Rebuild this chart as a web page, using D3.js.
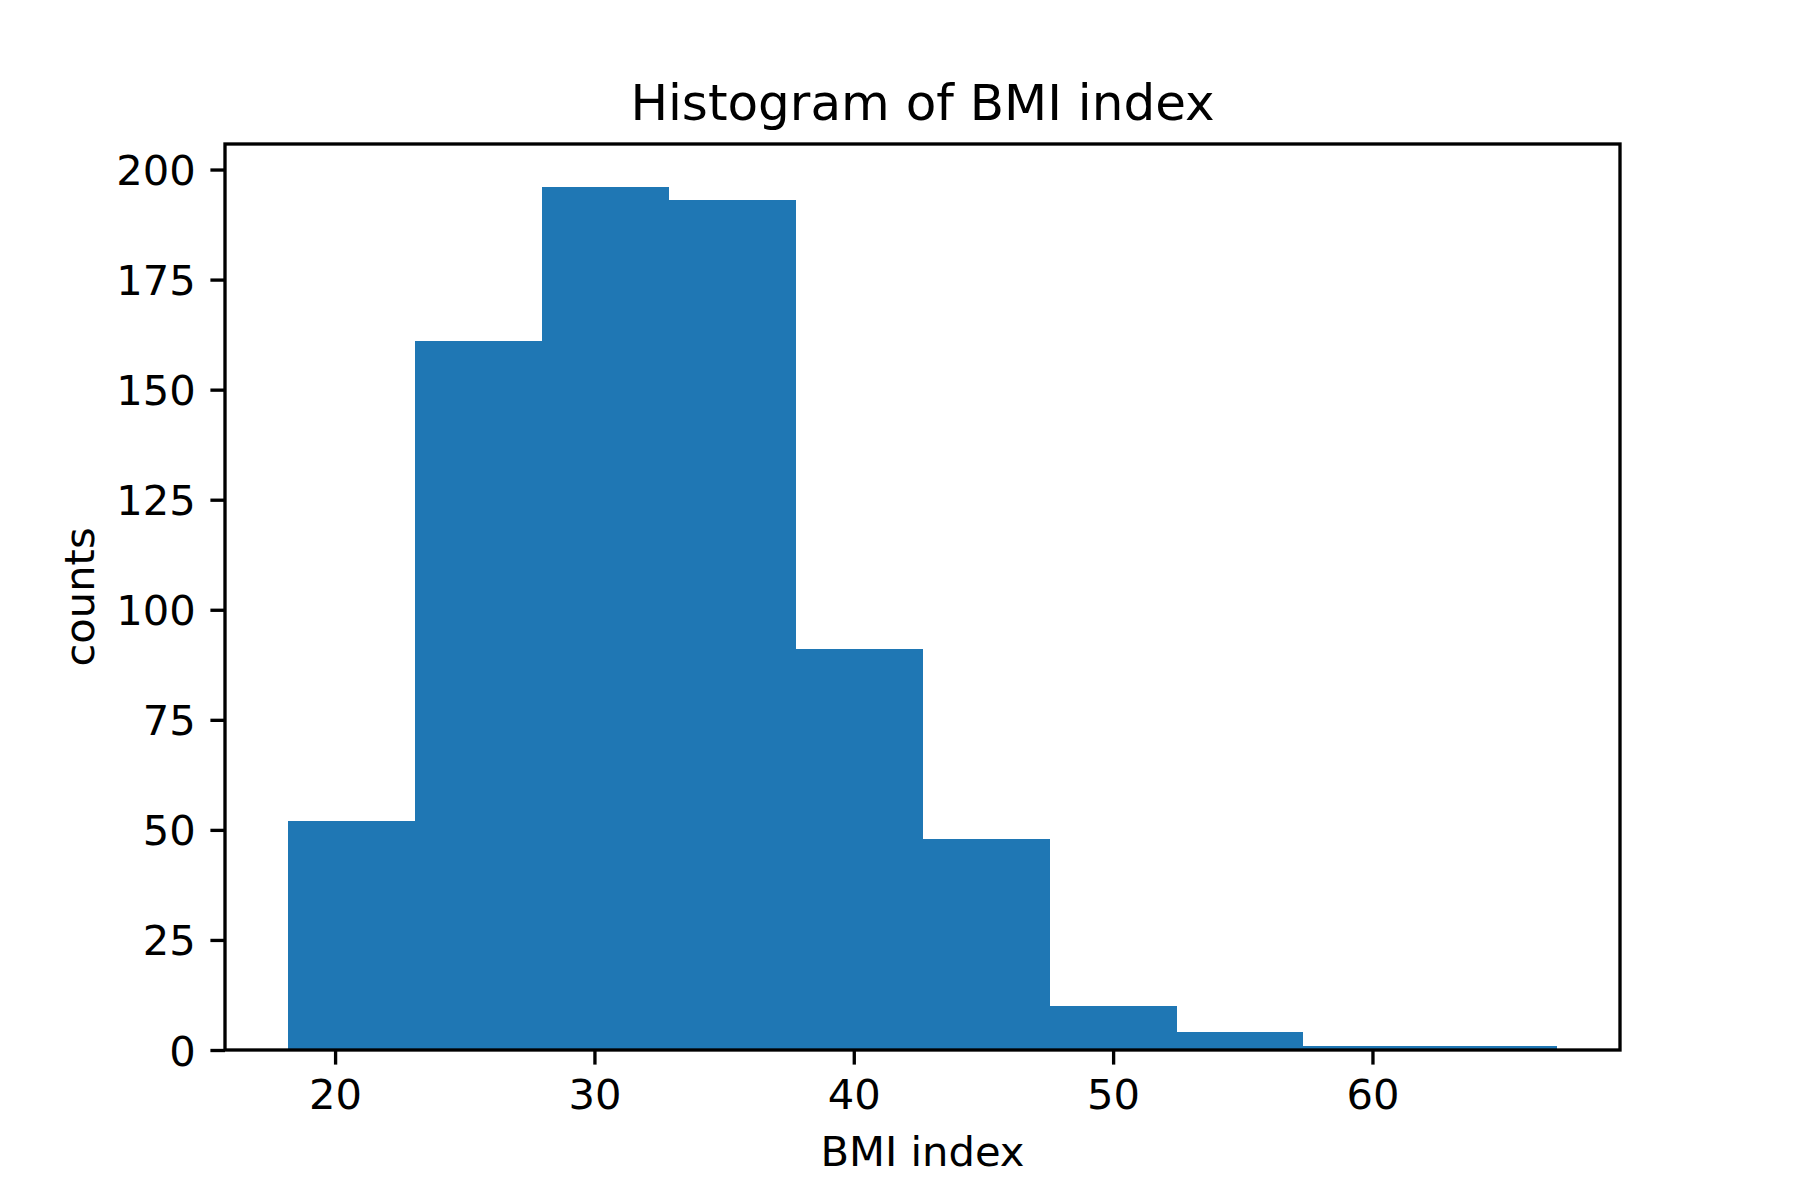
<!DOCTYPE html>
<html>
<head>
<meta charset="utf-8">
<script src="https://cdn.jsdelivr.net/npm/d3@7"></script>
<style>
  body { margin: 0; background: #fff; }
  text { font-family: "DejaVu Sans", sans-serif; fill: #000; }
</style>
</head>
<body>
<svg id="chart"></svg>
<script>
// histogram bins (BMI index) and their counts
const binEdges = [18.2, 23.09, 27.98, 32.87, 37.76, 42.65, 47.54, 52.43, 57.32, 62.21, 67.1];
const counts = [52, 161, 196, 193, 91, 48, 10, 4, 1, 1];
const xTicks = [20, 30, 40, 50, 60];
const yTicks = [0, 25, 50, 75, 100, 125, 150, 175, 200];

const width = 1800, height = 1200;
const margin = { top: 144, right: 180, bottom: 150, left: 225 };
const innerW = width - margin.left - margin.right;
const innerH = height - margin.top - margin.bottom;
const tickFont = 41.67;
const tickLen = 14.6;
const lw = 3.33;

const bins = counts.map((c, i) => ({ x0: binEdges[i], x1: binEdges[i + 1], count: c }));

const svg = d3.select("#chart")
    .attr("width", width)
    .attr("height", height);

const g = svg.append("g")
    .attr("transform", "translate(" + margin.left + "," + margin.top + ")");

// matplotlib style 5% margins on x, top only on y
const xMin = binEdges[0], xMax = binEdges[binEdges.length - 1];
const xPad = (xMax - xMin) * 0.05;
const xScale = d3.scaleLinear()
    .domain([xMin - xPad, xMax + xPad])
    .range([0, innerW]);
const yScale = d3.scaleLinear()
    .domain([0, d3.max(counts) * 1.05])
    .range([innerH, 0]);

g.selectAll("rect.bar")
    .data(bins)
    .enter().append("rect")
    .attr("class", "bar")
    .attr("x", d => xScale(d.x0))
    .attr("width", d => xScale(d.x1) - xScale(d.x0) + 0.5)
    .attr("y", d => yScale(d.count))
    .attr("height", d => yScale(0) - yScale(d.count))
    .attr("fill", "#1f77b4")
    .attr("shape-rendering", "crispEdges");

// axes
const xAxis = g.append("g")
    .attr("transform", "translate(0," + innerH + ")")
    .call(d3.axisBottom(xScale).tickValues(xTicks).tickSize(tickLen).tickPadding(tickLen));
const yAxis = g.append("g")
    .call(d3.axisLeft(yScale).tickValues(yTicks).tickSize(tickLen).tickPadding(tickLen));

[xAxis, yAxis].forEach(a => {
    a.select(".domain").remove();
    a.selectAll(".tick line").attr("stroke", "#000").attr("stroke-width", lw);
    a.selectAll(".tick text")
        .style("font-family", "'DejaVu Sans', sans-serif")
        .style("font-size", tickFont + "px")
        .attr("fill", "#000");
});
yAxis.selectAll(".tick text").attr("dy", "0.36em");

// spines
g.append("rect")
    .attr("x", 0)
    .attr("y", 0)
    .attr("width", innerW)
    .attr("height", innerH)
    .attr("fill", "none")
    .attr("stroke", "#000")
    .attr("stroke-width", lw);

// title and labels
svg.append("text")
    .attr("x", margin.left + innerW / 2)
    .attr("y", 120)
    .attr("text-anchor", "middle")
    .style("font-size", "50px")
    .text("Histogram of BMI index");

svg.append("text")
    .attr("x", margin.left + innerW / 2)
    .attr("y", 1166)
    .attr("text-anchor", "middle")
    .style("font-size", tickFont + "px")
    .text("BMI index");

svg.append("text")
    .attr("transform", "translate(94," + (margin.top + innerH / 2) + ") rotate(-90)")
    .attr("text-anchor", "middle")
    .style("font-size", tickFont + "px")
    .text("counts");
</script>
</body>
</html>
